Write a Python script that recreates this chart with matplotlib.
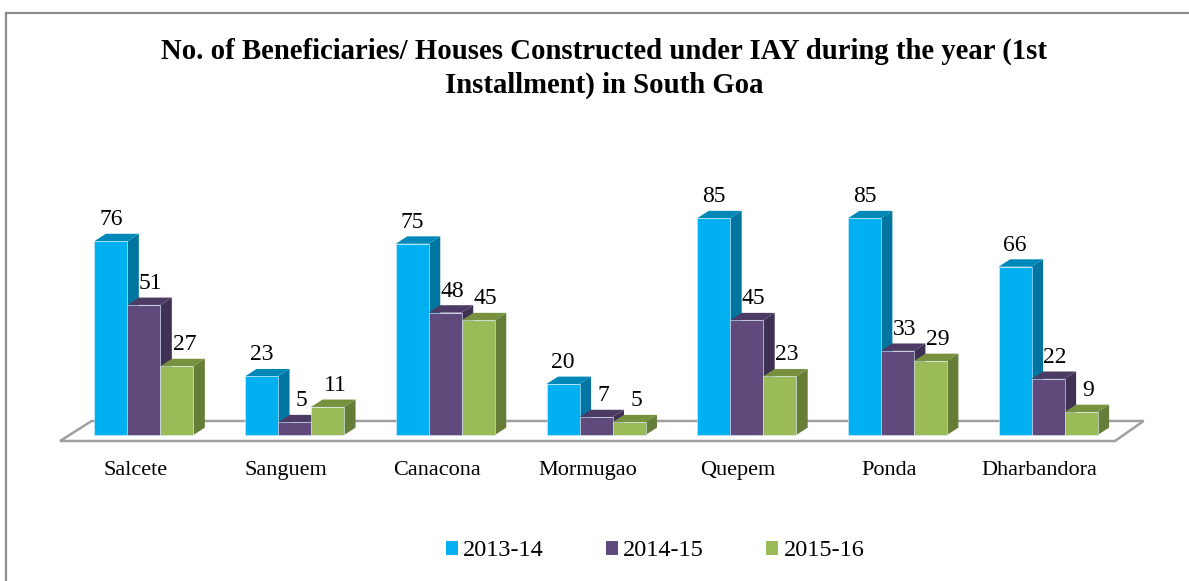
import numpy as np
import matplotlib
matplotlib.use('Agg')
import matplotlib.pyplot as plt
from matplotlib.patches import Polygon, Patch
from matplotlib.lines import Line2D
from matplotlib.transforms import offset_copy

#=========================== data ===========================
blocks = ['Salcete', 'Sanguem', 'Canacona', 'Mormugao', 'Quepem', 'Ponda', 'Dharbandora']
years = ['2013-14', '2014-15', '2015-16']
y2013 = [76, 23, 75, 20, 85, 85, 66]
y2014 = [51, 5, 48, 7, 45, 33, 22]
y2015 = [27, 11, 45, 5, 23, 29, 9]
series = [y2013, y2014, y2015]

# front / side / top colours of each series
front = ['#00B0F0', '#604A7B', '#9BBB59']
side = ['#00759F', '#3E3153', '#667D38']
top = ['#0088B8', '#4C3C65', '#77913F']

W, H = 1189, 581
plt.rcParams['font.family'] = ['Liberation Serif', 'DejaVu Serif']
fig = plt.figure(figsize=(W / 100, H / 100), dpi=100)

# axes placed so the floor spans the chart like the original
ax = fig.add_axes([60 / W, (H - 441) / H, 1055 / W, 261 / H])
ymin, ymax = -2.35, 100
ax.set_xlim(-0.5, 6.5)
ax.set_ylim(ymin, ymax)
ax.axis('off')

bw = 0.219      # bar width (category units)
x_off = -0.272  # left edge of first bar relative to category
dx, dy = 0.076, 2.9  # depth of the 3d look
lbl_shift = [0.0, 0.6, 0.65]  # label nudge to the right, in depth units

#=========================== floor ===========================
n = len(blocks)
fx0, fx1 = -0.5, n - 0.5
back_y = 5.5
floor = Polygon([(fx0, ymin), (fx1, ymin), (fx1 + 0.19, back_y), (fx0 + 0.21, back_y)],
                closed=True, facecolor='white', edgecolor='#A0A0A0', lw=1.8,
                clip_on=False, zorder=1)
ax.add_patch(floor)

#=========================== bars ===========================
x = np.arange(n)
lbl_tr = offset_copy(ax.transData, fig=fig, x=0, y=16, units='dots')
for k, vals in enumerate(series):
    for i, v in enumerate(vals):
        x0 = x[i] + x_off + k * bw
        x1 = x0 + bw
        sp = Polygon([(x1, 0), (x1 + dx, dy), (x1 + dx, v + dy), (x1, v)],
                     closed=True, facecolor=side[k], edgecolor='none',
                     clip_on=False, zorder=2 + k)
        tp = Polygon([(x0, v), (x0 + dx, v + dy), (x1 + dx, v + dy), (x1, v)],
                     closed=True, facecolor=top[k], edgecolor='none',
                     clip_on=False, zorder=2 + k)
        ax.add_patch(sp)
        ax.add_patch(tp)
        # value label just above the top face
        ax.text(x0 + bw / 2 + lbl_shift[k] * dx, v, str(v), ha='center', va='baseline',
                fontsize=17, color='black', zorder=10, transform=lbl_tr)
    ax.bar(x + x_off + k * bw, vals, width=bw, align='edge', color=front[k],
           edgecolor='#DDEEFF', linewidth=0.4, zorder=2.5 + k, clip_on=False)

for i, name in enumerate(blocks):
    ax.text(x[i], -14, name, ha='center', va='center', fontsize=16)

#=========================== title ===========================
fig.text(604 / W, 1 - 51 / H,
         'No. of Beneficiaries/ Houses Constructed under IAY during the year (1st',
         ha='center', va='center', fontsize=20.7, fontweight='bold')
fig.text(604 / W, 1 - 85 / H, 'Installment) in South Goa',
         ha='center', va='center', fontsize=20.7, fontweight='bold')

#=========================== legend ===========================
handles = [Patch(facecolor=front[k], edgecolor='none') for k in range(3)]
fig.legend(handles, years, ncol=3, loc='center', bbox_to_anchor=(655 / W, 1 - 551 / H),
           frameon=False, fontsize=17.5, handlelength=0.5, handleheight=0.5,
           handletextpad=0.22, columnspacing=2.55)

#=========================== border ===========================
bx, by = 6 / W, 1 - 13 / H
fig.add_artist(Line2D([bx, bx], [0, by], transform=fig.transFigure, color='#8C8C8C', lw=1.6))
fig.add_artist(Line2D([bx, 1], [by, by], transform=fig.transFigure, color='#8C8C8C', lw=1.6))

fig.savefig('out.png', dpi=100)
